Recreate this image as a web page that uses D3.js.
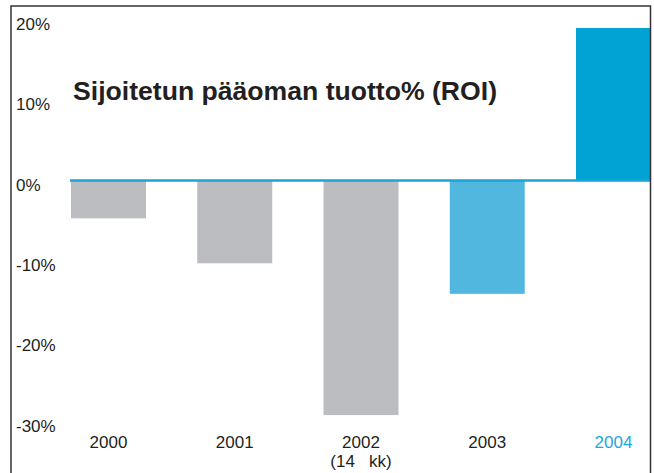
<!DOCTYPE html>
<html>
<head>
<meta charset="utf-8">
<script src="https://cdn.jsdelivr.net/npm/d3@7"></script>
<style>
  body { margin: 0; background: #fff; }
  svg text { font-family: "Liberation Sans", Arial, sans-serif; fill: #231f20; }
</style>
</head>
<body>
<div id="chart"></div>
<script>
// data
var years = ["2000", "2001", "2002", "2003", "2004"];
var roi = [-4.7, -10.3, -29.2, -14.1, 19.0];
var yearNotes = ["", "", "(14   kk)", "", ""];
var yTicks = [20, 10, 0, -10, -20, -30];
var title = "Sijoitetun pääoman tuotto% (ROI)";

var width = 654, height = 473;

var svg = d3.select("#chart")
  .append("svg")
    .attr("width", width)
    .attr("height", height);

var x = d3.scaleBand()
    .domain(years)
    .range([71, 651])
    .paddingInner(0.406)
    .paddingOuter(0);

var y = d3.scaleLinear()
    .domain([-30, 20])
    .range([421.5, 20]);

function barColor(d, i) {
  if (years[i] == "2004") return "#00a3d4";
  if (years[i] == "2003") return "#52b7df";
  return "#bcbdc1";
}

// bars
svg.append("g")
  .selectAll("rect")
  .data(roi)
  .enter().append("rect")
    .attr("x", function(d, i) { return x(years[i]); })
    .attr("y", function(d) { return y(Math.max(0, d)); })
    .attr("width", x.bandwidth())
    .attr("height", function(d) { return Math.abs(y(d) - y(0)); })
    .attr("fill", barColor);

// zero line
svg.append("line")
    .attr("x1", 70)
    .attr("x2", 650)
    .attr("y1", y(0))
    .attr("y2", y(0))
    .attr("stroke", "#1ba3d8")
    .attr("stroke-width", 2.5);

// y tick labels
svg.append("g")
  .selectAll("text")
  .data(yTicks)
  .enter().append("text")
    .attr("x", 16)
    .attr("y", function(d) { return y(d) + 10; })
    .style("font-size", "17px")
    .text(function(d) { return d + "%"; });

// x labels
var xl = svg.append("g")
  .selectAll("g")
  .data(years)
  .enter().append("g")
    .attr("transform", function(d) { return "translate(" + (x(d) + x.bandwidth() / 2) + ",0)"; });

xl.append("text")
    .attr("y", 448)
    .attr("text-anchor", "middle")
    .style("font-size", "17px")
    .style("fill", function(d) { return d == "2004" ? "#1ea6dc" : "#231f20"; })
    .text(function(d) { return d; });

xl.append("text")
    .attr("y", 467)
    .attr("text-anchor", "middle")
    .attr("xml:space", "preserve")
    .style("white-space", "pre")
    .style("font-size", "17px")
    .text(function(d, i) { return yearNotes[i]; });

// title
svg.append("text")
    .attr("x", 73)
    .attr("y", 100)
    .style("font-size", "26.6px")
    .style("font-weight", "bold")
    .text(title);

// frame, open at the bottom
svg.append("path")
    .attr("d", "M11," + height + "V6H650.5V" + height)
    .attr("fill", "none")
    .attr("stroke", "#333")
    .attr("stroke-width", 1.5);
</script>
</body>
</html>
